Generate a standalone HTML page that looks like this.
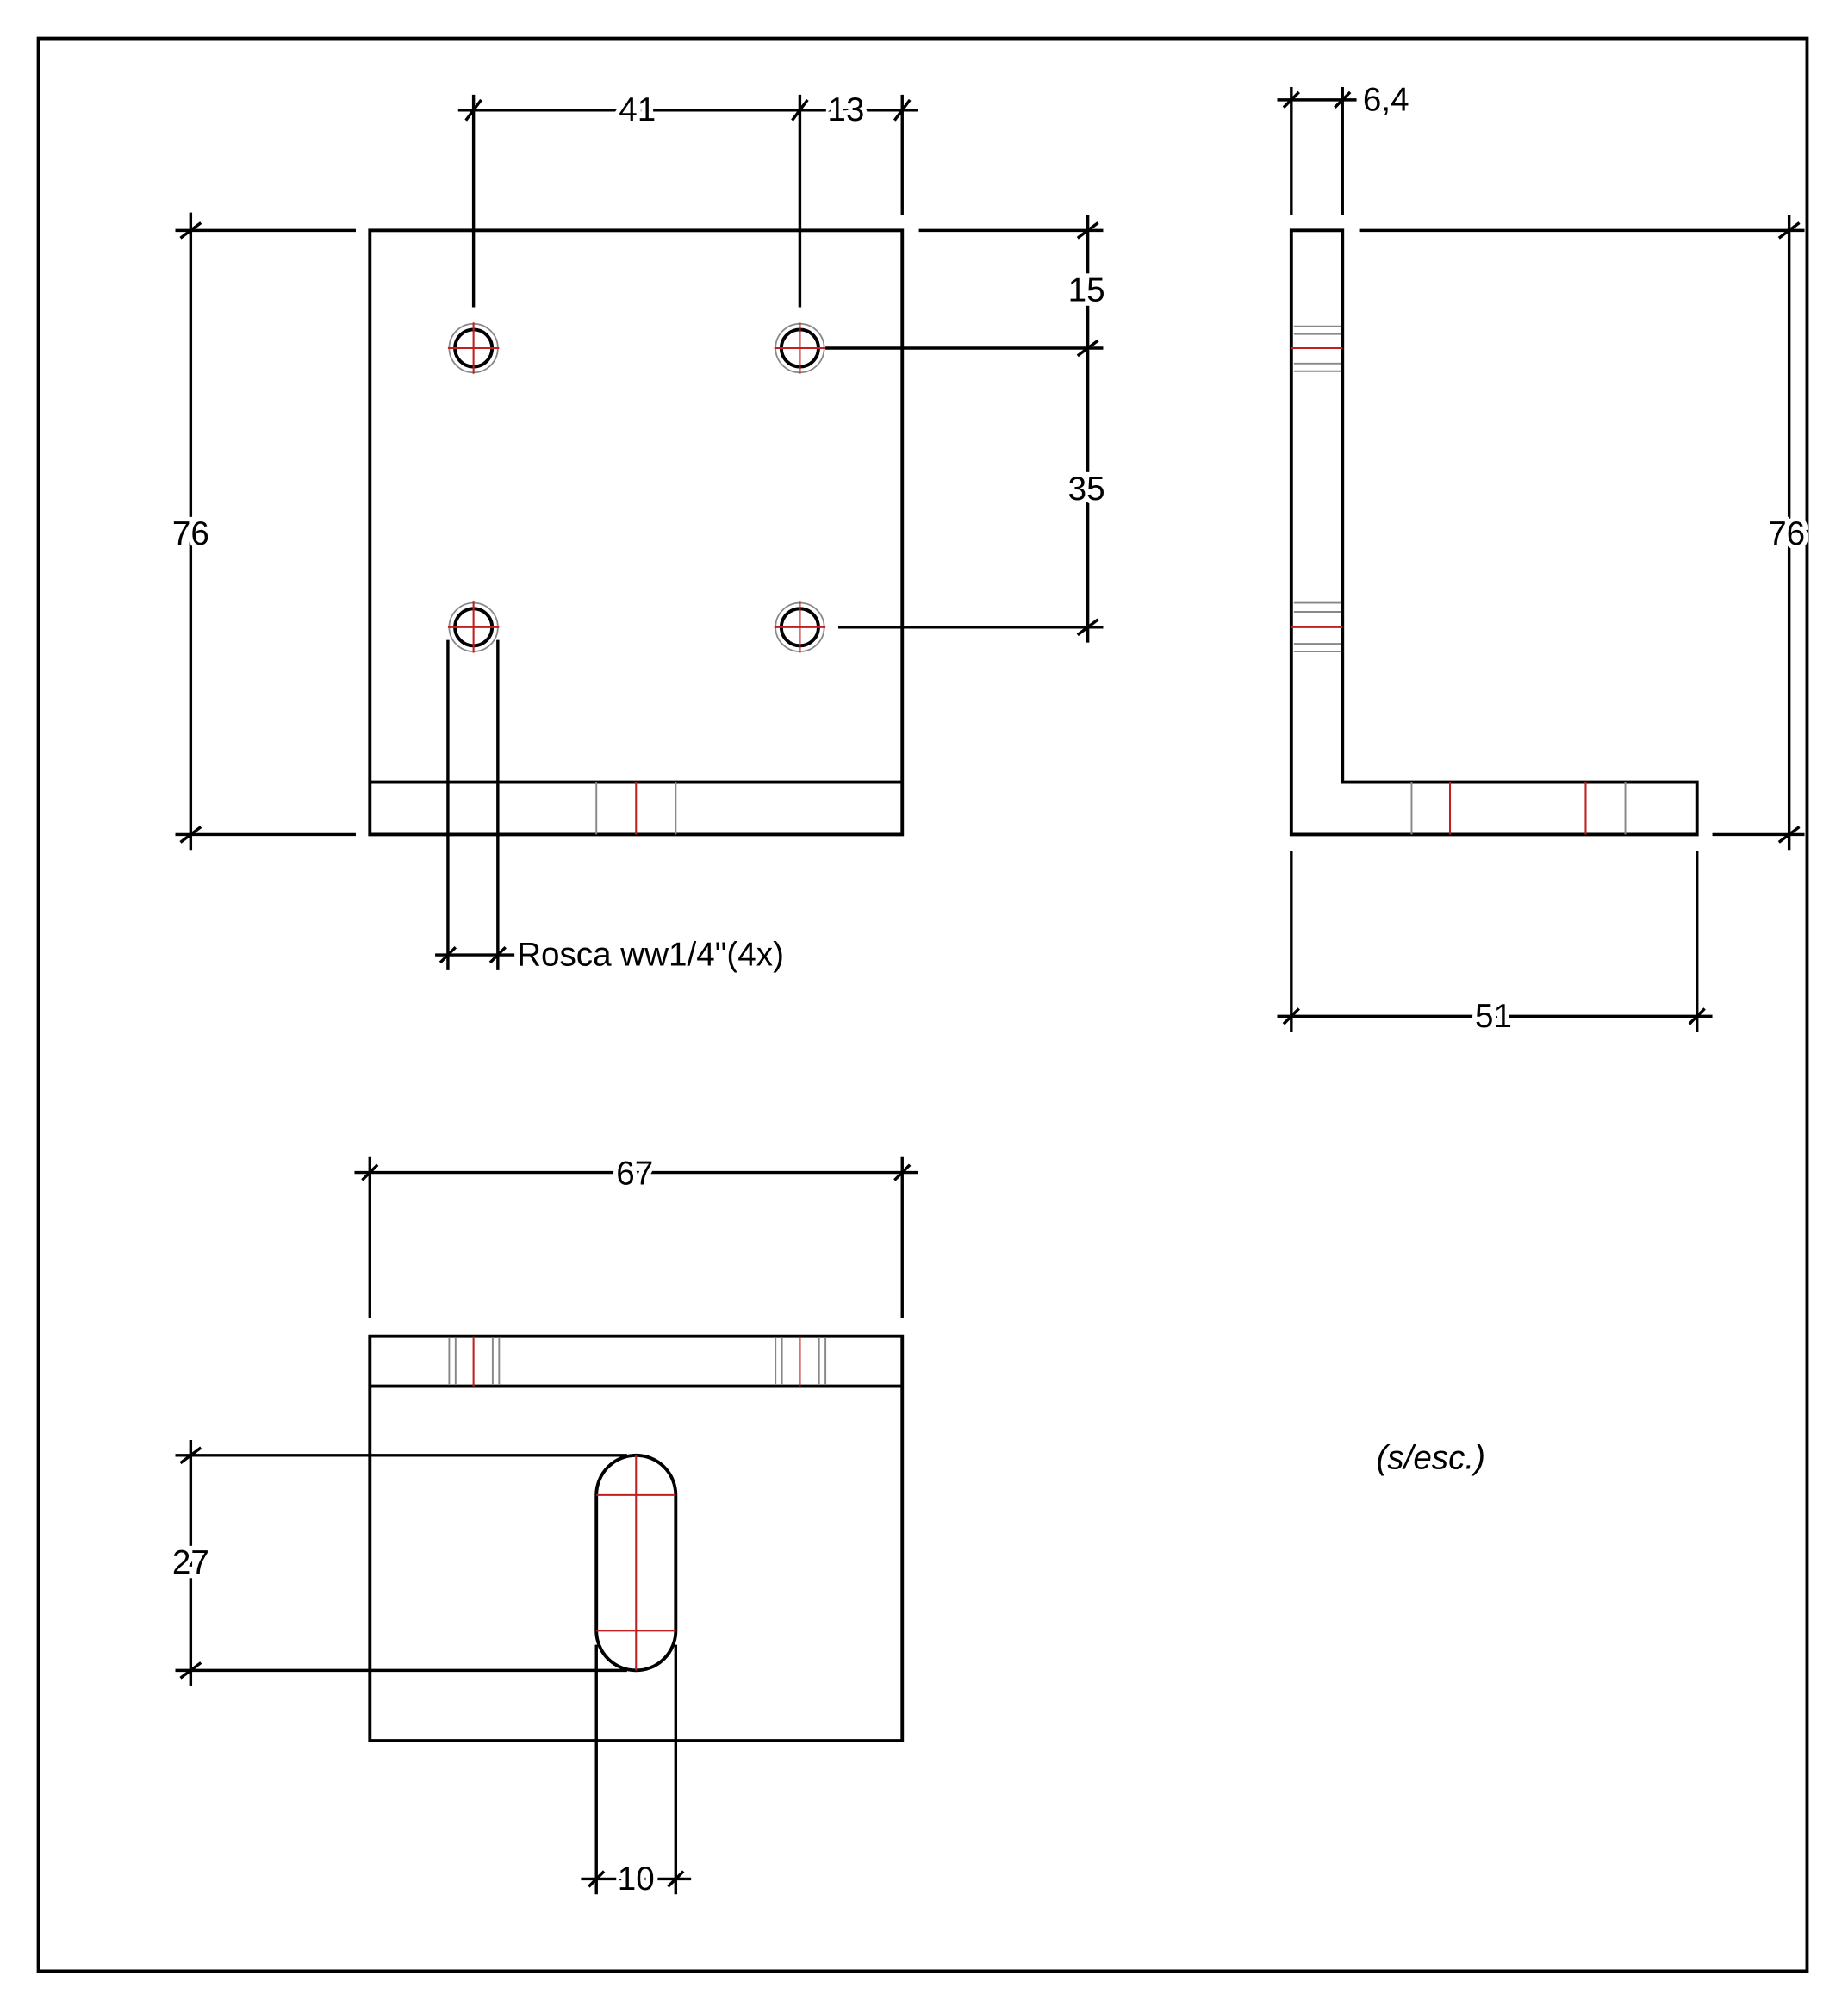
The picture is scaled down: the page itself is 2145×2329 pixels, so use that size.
<!DOCTYPE html>
<html><head><meta charset="utf-8"><style>html,body{margin:0;padding:0;background:#fff}svg{display:block}</style></head>
<body>
<svg width="2145" height="2329" viewBox="0 0 1444 1568" preserveAspectRatio="none" xmlns="http://www.w3.org/2000/svg">
<rect width="1444" height="1568" fill="#fff"/>
<g fill="none" stroke="#000" stroke-width="2.6">
<rect x="30" y="30" width="1382" height="1510"/>
<rect x="289" y="180" width="416" height="472"/>
<line x1="289" y1="611" x2="705" y2="611"/>
<path d="M1009 180 H1049 V611 H1326 V652 H1009 Z"/>
<rect x="289" y="1044" width="416" height="316"/>
<line x1="289" y1="1083" x2="705" y2="1083"/>
<rect x="466" y="1137" width="62" height="168" rx="31" ry="31"/>
</g>
<g stroke="#888" stroke-width="1.3">
<line x1="466" y1="611" x2="466" y2="652"/><line x1="528" y1="611" x2="528" y2="652"/>
<line x1="1103" y1="611" x2="1103" y2="652"/><line x1="1270" y1="611" x2="1270" y2="652"/>
<line x1="1011" y1="255" x2="1048" y2="255"/><line x1="1011" y1="261" x2="1048" y2="261"/>
<line x1="1011" y1="284" x2="1048" y2="284"/><line x1="1011" y1="290" x2="1048" y2="290"/>
<line x1="1011" y1="471" x2="1048" y2="471"/><line x1="1011" y1="478" x2="1048" y2="478"/>
<line x1="1011" y1="503" x2="1048" y2="503"/><line x1="1011" y1="509" x2="1048" y2="509"/>
<line x1="351" y1="1045" x2="351" y2="1082"/><line x1="356" y1="1045" x2="356" y2="1082"/>
<line x1="385" y1="1045" x2="385" y2="1082"/><line x1="390" y1="1045" x2="390" y2="1082"/>
<line x1="606" y1="1045" x2="606" y2="1082"/><line x1="611" y1="1045" x2="611" y2="1082"/>
<line x1="640" y1="1045" x2="640" y2="1082"/><line x1="645" y1="1045" x2="645" y2="1082"/>
</g>
<g stroke="#c02020" stroke-width="1.4">
<line x1="497" y1="611" x2="497" y2="652"/>
<line x1="1133" y1="611" x2="1133" y2="652"/><line x1="1239" y1="611" x2="1239" y2="652"/>
<line x1="1009" y1="272" x2="1049" y2="272"/><line x1="1009" y1="490" x2="1049" y2="490"/>
<line x1="370" y1="1044" x2="370" y2="1083"/><line x1="625" y1="1044" x2="625" y2="1083"/>
<line x1="497" y1="1137" x2="497" y2="1305"/>
<line x1="466" y1="1168" x2="528" y2="1168"/><line x1="466" y1="1274" x2="528" y2="1274"/>
</g>
<g id="h">
<circle cx="370" cy="272" r="19" fill="none" stroke="#888" stroke-width="1.2"/>
<circle cx="370" cy="272" r="14.5" fill="none" stroke="#000" stroke-width="2.6"/>
<line x1="350" y1="272" x2="390" y2="272" stroke="#c02020" stroke-width="1.4"/>
<line x1="370" y1="252" x2="370" y2="292" stroke="#c02020" stroke-width="1.4"/>
</g>
<use href="#h" x="255" y="0"/><use href="#h" x="0" y="218"/><use href="#h" x="255" y="218"/>
<g stroke="#000" stroke-width="2.3" fill="none">
<line x1="358" y1="86" x2="717" y2="86"/>
<line x1="370" y1="74" x2="370" y2="240"/><line x1="625" y1="74" x2="625" y2="240"/><line x1="705" y1="74" x2="705" y2="168"/>
<line x1="364" y1="94" x2="376" y2="78"/><line x1="619" y1="94" x2="631" y2="78"/><line x1="699" y1="94" x2="711" y2="78"/>
<line x1="718" y1="180" x2="862" y2="180"/><line x1="645" y1="272" x2="862" y2="272"/><line x1="655" y1="490" x2="862" y2="490"/>
<line x1="850" y1="168" x2="850" y2="502"/>
<line x1="842" y1="186" x2="858" y2="174"/><line x1="842" y1="278" x2="858" y2="266"/><line x1="842" y1="496" x2="858" y2="484"/>
<line x1="137" y1="180" x2="278" y2="180"/><line x1="137" y1="652" x2="278" y2="652"/>
<line x1="149" y1="166" x2="149" y2="664"/>
<line x1="141" y1="186" x2="157" y2="174"/><line x1="141" y1="658" x2="157" y2="646"/>
<line x1="350" y1="500" x2="350" y2="758"/><line x1="389" y1="500" x2="389" y2="758"/>
<line x1="340" y1="746" x2="402" y2="746"/>
<line x1="344" y1="752" x2="356" y2="740"/><line x1="383" y1="752" x2="395" y2="740"/>
<line x1="1009" y1="68" x2="1009" y2="168"/><line x1="1049" y1="68" x2="1049" y2="168"/>
<line x1="998" y1="78" x2="1060" y2="78"/>
<line x1="1003" y1="84" x2="1015" y2="72"/><line x1="1043" y1="84" x2="1055" y2="72"/>
<line x1="1062" y1="180" x2="1410" y2="180"/><line x1="1338" y1="652" x2="1410" y2="652"/>
<line x1="1398" y1="168" x2="1398" y2="664"/>
<line x1="1390" y1="186" x2="1406" y2="174"/><line x1="1390" y1="658" x2="1406" y2="646"/>
<line x1="1009" y1="665" x2="1009" y2="806"/><line x1="1326" y1="665" x2="1326" y2="806"/>
<line x1="998" y1="794" x2="1338" y2="794"/>
<line x1="1003" y1="800" x2="1015" y2="788"/><line x1="1320" y1="800" x2="1332" y2="788"/>
<line x1="289" y1="904" x2="289" y2="1030"/><line x1="705" y1="904" x2="705" y2="1030"/>
<line x1="277" y1="916" x2="717" y2="916"/>
<line x1="283" y1="922" x2="295" y2="910"/><line x1="699" y1="922" x2="711" y2="910"/>
<line x1="137" y1="1137" x2="490" y2="1137"/><line x1="137" y1="1305" x2="490" y2="1305"/>
<line x1="149" y1="1125" x2="149" y2="1317"/>
<line x1="141" y1="1143" x2="157" y2="1131"/><line x1="141" y1="1311" x2="157" y2="1299"/>
<line x1="466" y1="1285" x2="466" y2="1480"/><line x1="528" y1="1285" x2="528" y2="1480"/>
<line x1="454" y1="1468" x2="540" y2="1468"/>
<line x1="460" y1="1474" x2="472" y2="1462"/><line x1="522" y1="1474" x2="534" y2="1462"/>
</g>
<g font-family="Liberation Sans, sans-serif" font-size="26" fill="#000" text-anchor="middle" dominant-baseline="central" stroke="#fff" stroke-width="7" paint-order="stroke">
<text x="498" y="86">41</text>
<text x="661" y="86">13</text>
<text x="849" y="227">15</text>
<text x="849" y="382">35</text>
<text x="149" y="417">76</text>
<text x="1396" y="417">76</text>
<text x="1083" y="78">6,4</text>
<text x="1167" y="794">51</text>
<text x="496" y="917">67</text>
<text x="149" y="1221">27</text>
<text x="497" y="1468">10</text>
<text x="404" y="746" text-anchor="start">Rosca ww1/4"(4x)</text>
<text x="1118" y="1139" font-style="italic" stroke-width="0">(s/esc.)</text>
</g>
</svg>
</body></html>
